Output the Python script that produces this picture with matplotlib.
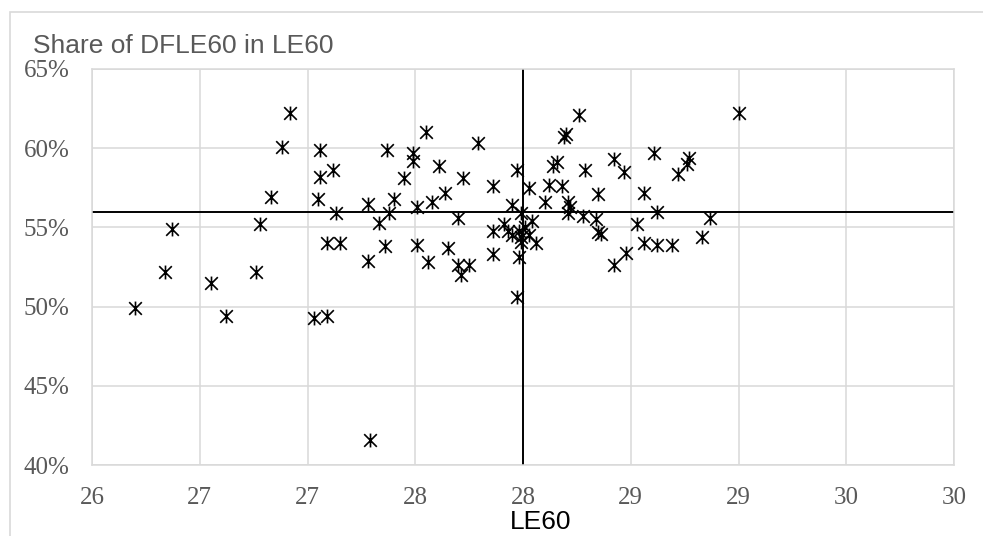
import numpy as np
import matplotlib
matplotlib.use("Agg")
import matplotlib.pyplot as plt
import matplotlib.ticker as ticker
from matplotlib.path import Path
from matplotlib.patches import Rectangle

# Data: life expectancy at 60 (LE60) and share of disability-free LE60
le60 = [26.20, 26.34, 26.37, 26.55, 26.62, 26.76, 26.78, 26.83, 26.88, 26.92,
        27.03, 27.09, 27.05, 27.06, 27.06, 27.12, 27.13, 27.09, 27.15, 27.28,
        27.28, 27.29, 27.33, 27.36, 27.37, 27.38, 27.40, 27.45, 27.49, 27.49,
        27.51, 27.51, 27.55, 27.56, 27.58, 27.61, 27.64, 27.65, 27.70, 27.70,
        27.71, 27.72, 27.75, 27.79, 27.86, 27.86, 27.86, 27.91, 27.93, 27.95,
        27.97, 27.97, 27.98, 27.98, 27.99, 27.99, 27.99, 28.03, 28.03, 28.04,
        28.06, 28.10, 28.12, 28.14, 28.16, 28.18, 28.19, 28.20, 28.21, 28.22,
        28.21, 28.26, 28.28, 28.29, 28.34, 28.35, 28.35, 28.36, 28.42, 28.42,
        28.47, 28.48, 28.53, 28.56, 28.56, 28.61, 28.62, 28.62, 28.69, 28.72,
        28.76, 28.77, 28.83, 28.87, 29.00, 28.01, 27.95]
share = [49.9, 52.2, 54.9, 51.5, 49.4, 52.2, 55.2, 56.9, 60.1, 62.2,
         49.3, 49.4, 56.8, 58.2, 59.9, 58.6, 55.9, 54.0, 54.0, 56.5,
         52.9, 41.6, 55.3, 53.8, 59.9, 55.9, 56.8, 58.1, 59.7, 59.2,
         56.3, 53.9, 61.0, 52.8, 56.6, 58.9, 57.2, 53.7, 55.6, 52.6,
         52.0, 58.1, 52.6, 60.3, 57.6, 54.8, 53.3, 55.2, 54.8, 56.4,
         58.6, 50.6, 54.8, 53.1, 54.4, 55.9, 54.1, 54.5, 57.5, 55.4,
         54.0, 56.6, 57.7, 58.9, 59.1, 57.6, 60.7, 60.9, 56.6, 56.3,
         55.9, 62.1, 55.7, 58.6, 55.5, 57.1, 54.7, 54.6, 52.6, 59.3,
         58.5, 53.4, 55.2, 57.2, 54.0, 59.7, 53.9, 56.0, 53.9, 58.4,
         59.0, 59.4, 54.4, 55.6, 62.2, 55.0, 54.5]
share = np.array(share) / 100

mean_le60 = 28.0
mean_share = 0.56

grey = '#595959'
grid_col = '#d9d9d9'

fig = plt.figure(figsize=(9.83, 5.36), dpi=100)
ax = fig.add_axes([92/983, 1 - 465/536, 862/983, 396/536])

# outer chart border (only left and top visible)
fig.patches.append(Rectangle((10/983, -0.2), 1.2, 1.2 - 12/536, transform=fig.transFigure,
                             fill=False, edgecolor=grid_col, linewidth=1.2))

# axis limits and ticks
ax.set_xlim(26, 30)
ax.set_ylim(0.40, 0.65)
ax.xaxis.set_major_locator(ticker.MultipleLocator(0.5))
ax.yaxis.set_major_locator(ticker.MultipleLocator(0.05))
ax.xaxis.set_major_formatter(ticker.FuncFormatter(lambda v, p: "%d" % int(np.floor(v + 0.5))))
ax.yaxis.set_major_formatter(ticker.FuncFormatter(lambda v, p: "%d%%" % int(round(v * 100))))
ax.tick_params(length=0, labelsize=18, labelcolor=grey)
ax.tick_params(axis='x', pad=16)
ax.tick_params(axis='y', pad=16)
for lab in ax.get_xticklabels() + ax.get_yticklabels():
    lab.set_fontfamily('Liberation Serif')

ax.grid(True, color=grid_col, linewidth=1.1)
ax.set_axisbelow(True)
for s in ax.spines.values():
    s.set_color(grid_col)
    s.set_linewidth(1.1)

# mean lines
ax.axhline(mean_share, color='black', linewidth=1.4, zorder=2)
ax.axvline(mean_le60, color='black', linewidth=1.4, zorder=2)

# excel-like star marker: X plus vertical bar
star = Path([(-0.5, -0.5), (0.5, 0.5), (-0.5, 0.5), (0.5, -0.5), (0, -0.55), (0, 0.55)],
            [Path.MOVETO, Path.LINETO, Path.MOVETO, Path.LINETO, Path.MOVETO, Path.LINETO])
ax.plot(le60, share, linestyle='none', marker=star, markersize=10,
        markerfacecolor='none', markeredgecolor='black', markeredgewidth=1.2, zorder=3)

# texts
fig.text(33/983, 1 - 53/536, "Share of DFLE60 in LE60", fontsize=19, color=grey,
         family='Liberation Sans', va='baseline', ha='left')
fig.text(541/983, 1 - 522/536, "LE60", fontsize=19, color='black',
         family='Liberation Sans', va='center', ha='center')

fig.savefig("out.png", dpi=100)
